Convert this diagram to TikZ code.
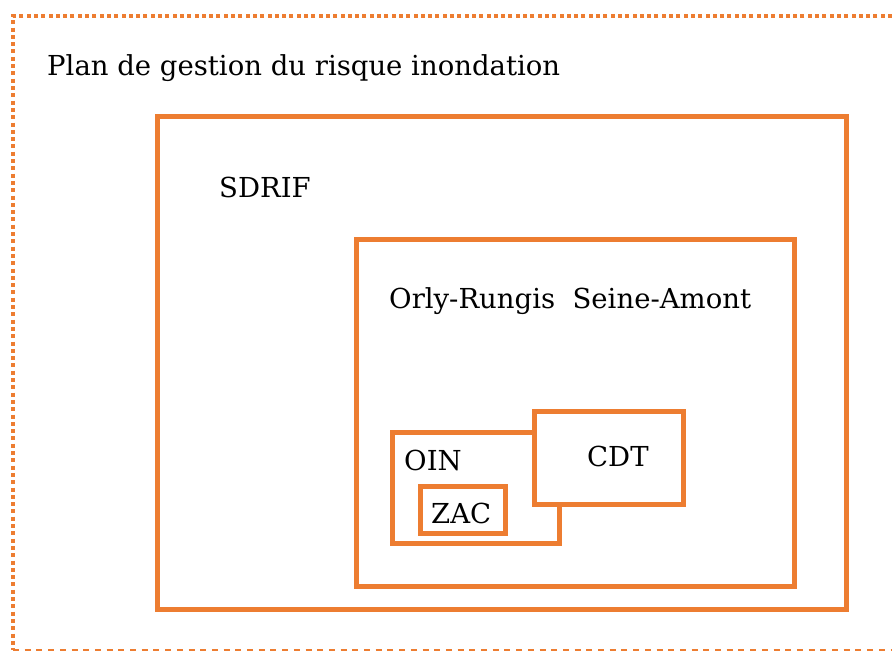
\documentclass[tikz,border=0pt]{standalone}
\usepackage{fontspec}
\setmainfont{DejaVu Serif}
\usepackage{xcolor}
\usetikzlibrary{positioning}
\definecolor{accent}{HTML}{ED7D31}

\begin{document}
\begin{tikzpicture}[x=1pt,y=-1pt,
    frame/.style={draw=accent,line width=5pt,fill=white,anchor=north west,inner sep=0pt,outer sep=0pt},
    label/.style={anchor=base west,inner sep=0pt,font=\fontsize{27.5}{32}\selectfont},
    border/.style={draw=accent,line width=4pt,dash pattern=on 4pt off 3.3pt},
    lower/.style={draw=accent,line width=2pt,dash pattern=on 6pt off 5.7pt}
  ]
    \useasboundingbox (0,0) rectangle (892,651);
    \coordinate (topleft) at (13,16);
    \coordinate (topright) at (892,16);
    \coordinate (botleft) at (13,650);
    \coordinate (botright) at (892,650);
    \draw[border] (topright) -- (topleft) -- (botleft);
    \draw[lower] (botleft) -- (botright);
    \node[frame,minimum width=689pt,minimum height=493pt] (sdrif) at (157,116) {};
    \node[frame,minimum width=438pt,minimum height=347pt] (orly) at (356,239) {};
    \node[frame,minimum width=167pt,minimum height=111pt] (oin) at (392,432) {};
    \node[frame,minimum width=149pt,minimum height=93pt] (cdt) at (534,411) {};
    \node[frame,minimum width=85pt,minimum height=47pt] (zac) at (420,486) {};
    \node[label] (plan) at (47,75) {Plan de gestion du risque inondation};
    \node[label] (sdriflabel) at (219,197) {SDRIF};
    \node[label] (orlylabel) at (389,308) {Orly-Rungis\ \ Seine-Amont};
    \node[label] (oinlabel) at (404,470) {OIN};
    \node[label] (cdtlabel) at (587,466) {CDT};
    \node[label] (zaclabel) at (431,523) {ZAC};
  \end{tikzpicture}
\end{document}
